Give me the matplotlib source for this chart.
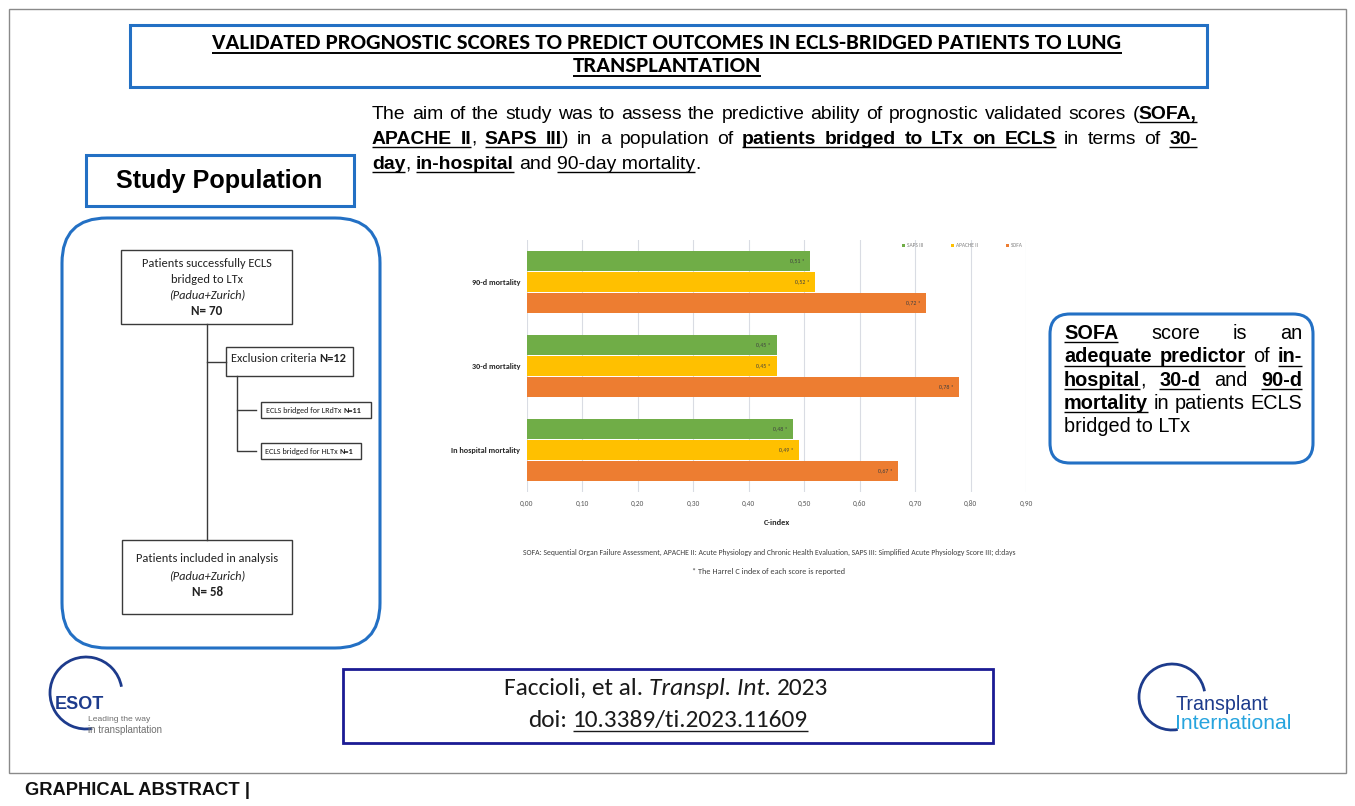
import matplotlib
matplotlib.use('Agg')
import matplotlib.pyplot as plt
from matplotlib import font_manager
from matplotlib.patches import Rectangle, FancyBboxPatch, Arc
import numpy as np

W, H = 1355, 806

# chart data (Harrell C-index)
groups = ['In hospital mortality', '30-d mortality', '90-d mortality']
scores = ['SAPS III', 'APACHE II', 'SOFA']
saps3 = [0.48, 0.45, 0.51]
apache2 = [0.49, 0.45, 0.52]
sofa = [0.67, 0.78, 0.72]
score_colors = ['#70AD47', '#FFC000', '#ED7D31']
xticks = [0.0, 0.1, 0.2, 0.3, 0.4, 0.5, 0.6, 0.7, 0.8, 0.9]

installed = {f.name for f in font_manager.fontManager.ttflist}


def pick(*names):
    for n in names:
        if n in installed:
            return n
    return 'DejaVu Sans'


ARIAL = pick('Liberation Sans', 'Arimo')
NARROW = pick('Liberation Sans Narrow', 'Liberation Sans')
CAL = pick('Carlito', 'Lato', 'Open Sans')
plt.rcParams['font.family'] = CAL

fig = plt.figure(figsize=(W / 100, H / 100), dpi=100)
bg = fig.add_axes([0, 0, 1, 1])
bg.set_xlim(0, W)
bg.set_ylim(H, 0)
bg.axis('off')
R = fig.canvas.get_renderer()


def seg_width(s, size, fam, fl):
    t = bg.text(0, 0, s, fontsize=size, family=fam,
                fontweight='bold' if 'b' in fl else 'normal',
                fontstyle='italic' if 'i' in fl else 'normal')
    w = t.get_window_extent(R).width
    t.remove()
    return w


def words(*runs):
    out, cur = [], []
    for text, fl in runs:
        for k, p in enumerate(text.split(' ')):
            if k > 0 and cur:
                out.append(cur)
                cur = []
            if p:
                cur.append((p, fl))
    if cur:
        out.append(cur)
    return out


def chunks_of(ws):
    # glue runs of the same style (with their spaces) into one piece
    ch = []
    for w in ws:
        for j, (s, f) in enumerate(w):
            if ch and ch[-1][1] == f:
                ch[-1][0] += (' ' if j == 0 else '') + s
            else:
                ch.append([s, f, j == 0 and bool(ch)])
    return ch


def space_w(size, fam):
    return seg_width('n n', size, fam, '') - seg_width('nn', size, fam, '')


def natural(ws, size, fam):
    sp = space_w(size, fam)
    return sum(seg_width(s, size, fam, f) + (sp if lead else 0) for s, f, lead in chunks_of(ws))


def fit(ws, width, fam):
    return 10 * width / natural(ws, 10, fam)


def draw_line(x, y, ws, size, fam, width=None, align='left', color='black', ul=1.0):
    sp = space_w(size, fam)
    pieces = []  # (text, flags, x, w)
    if width is None:
        ch = chunks_of(ws)
        cw = [seg_width(s, size, fam, f) for s, f, _ in ch]
        total = sum(cw) + sp * sum(1 for c in ch if c[2])
        if align == 'center':
            x -= total / 2
        elif align == 'right':
            x -= total
        cx = x
        for (s, f, lead), d in zip(ch, cw):
            if lead:
                cx += sp
            pieces.append((s, f, cx, d))
            cx += d
        gap = sp
    else:
        sw = [[seg_width(s, size, fam, f) for s, f in w] for w in ws]
        ww = [sum(a) for a in sw]
        gap = (width - sum(ww)) / max(len(ws) - 1, 1)
        cx = x
        for w, a in zip(ws, sw):
            for (s, f), d in zip(w, a):
                pieces.append((s, f, cx, d))
                cx += d
            cx += gap
    off = size * 100 / 72 * 0.17
    spans = []
    for s, f, cx, d in pieces:
        bg.text(cx, y, s, fontsize=size, family=fam, color=color,
                fontweight='bold' if 'b' in f else 'normal',
                fontstyle='italic' if 'i' in f else 'normal',
                ha='left', va='baseline')
        if 'u' in f:
            if spans and cx - spans[-1][1] <= gap + 0.5:
                spans[-1][1] = cx + d
            else:
                spans.append([cx, cx + d])
    for a, b in spans:
        bg.plot([a, b], [y + off, y + off], color=color, lw=ul, solid_capstyle='butt')


def fitted_line(x, y, runs, width, fam, **kw):
    ws = words(*runs)
    size = fit(ws, width, fam)
    draw_line(x, y, ws, size, fam, **kw)
    return size


BLUE = '#2370C4'

# outer frame
bg.add_patch(Rectangle((9, 9), 1337, 764, fill=False, ec='#8a8a8a', lw=1))

# title
bg.add_patch(Rectangle((130, 25), 1077, 62, fill=False, ec=BLUE, lw=2.2))
t1 = words(('VALIDATED PROGNOSTIC SCORES TO PREDICT OUTCOMES IN ECLS-BRIDGED PATIENTS TO LUNG', 'bu'))
ts = fit(t1, 910, CAL)
draw_line(667, 49, t1, ts, CAL, align='center', ul=1.4)
draw_line(667, 72, words(('TRANSPLANTATION', 'bu')), ts, CAL, align='center', ul=1.4)

# aim of the study
a1 = words(('The aim of the study was to assess the predictive ability of prognostic validated scores (', ''),
           ('SOFA,', 'bu'))
a2 = words(('APACHE II', 'bu'), (', ', ''), ('SAPS III', 'bu'), (') in a population of ', ''),
           ('patients bridged to LTx on ECLS', 'bu'), (' in terms of ', ''), ('30-', 'bu'))
a3 = words(('day', 'bu'), (', ', ''), ('in-hospital', 'bu'), (' and ', ''), ('90-day mortality', 'u'),
           ('.', ''))
asz = min(fit(a1, 815, NARROW), 14)
draw_line(372, 119, a1, asz, NARROW, width=825)
draw_line(372, 144, a2, asz, NARROW, width=825)
draw_line(372, 169, a3, asz, NARROW)

# study population
bg.add_patch(Rectangle((86, 155), 268, 51, fill=False, ec=BLUE, lw=2.2))
fitted_line(219, 188, [('Study Population', 'b')], 207, ARIAL, align='center')

# flow chart
bg.add_patch(FancyBboxPatch((62, 218), 318, 430, boxstyle='round,pad=0,rounding_size=45',
                            fill=False, ec=BLUE, lw=2.2))
FC = '#3a3a3a'
TC = '#222222'
for x, y, w, h in [(121, 250, 171, 74), (226, 347, 127, 29), (261, 402, 110, 16),
                   (261, 443, 100, 16), (122, 540, 170, 74)]:
    bg.add_patch(Rectangle((x, y), w, h, fill=False, ec=FC, lw=1))
bg.plot([207, 207], [324, 540], color=FC, lw=1)
bg.plot([207, 226], [362, 362], color=FC, lw=1)
bg.plot([237, 237, 256], [376, 451, 451], color=FC, lw=1)
bg.plot([237, 256], [410, 410], color=FC, lw=1)

fs = fitted_line(207, 267, [('Patients successfully ECLS', '')], 130, CAL, align='center', color=TC)
draw_line(207, 283, words(('bridged to LTx', '')), fs, CAL, align='center', color=TC)
draw_line(207, 298, words(('(Padua+Zurich)', 'i')), fs, CAL, align='center', color=TC)
draw_line(207, 315, words(('N= 70', 'b')), fs * 1.05, CAL, align='center', color=TC)
fitted_line(289, 362, [('Exclusion criteria ', ''), ('N=12', 'b')], 116, CAL, align='center', color=TC)
fitted_line(314, 413, [('ECLS bridged for LRdTx ', ''), ('N=11', 'b')], 95, CAL, align='center', color=TC)
fitted_line(309, 454, [('ECLS bridged for HLTx ', ''), ('N=1', 'b')], 89, CAL, align='center', color=TC)
draw_line(207, 562, words(('Patients included in analysis', '')), fs, CAL, align='center', color=TC)
draw_line(207, 579, words(('(Padua+Zurich)', 'i')), fs, CAL, align='center', color=TC)
draw_line(207, 596, words(('N= 58', 'b')), fs * 1.05, CAL, align='center', color=TC)

# conclusion box
bg.add_patch(FancyBboxPatch((1050, 314), 263, 149, boxstyle='round,pad=0,rounding_size=20',
                            fill=False, ec=BLUE, lw=2.2))
c1 = words(('SOFA', 'bu'), (' score is an', ''))
c2 = words(('adequate predictor', 'bu'), (' of ', ''), ('in-', 'bu'))
c3 = words(('hospital', 'bu'), (', ', ''), ('30-d', 'bu'), (' and ', ''), ('90-d', 'bu'))
c4 = words(('mortality', 'bu'), (' in patients ECLS', ''))
c5 = words(('bridged to LTx', ''))
csz = fit(c4, 238, ARIAL)
for k, ln in enumerate([c1, c2, c3, c4]):
    draw_line(1064, 339 + 23.3 * k, ln, csz, ARIAL, width=238)
draw_line(1064, 339 + 23.3 * 4, c5, csz, ARIAL)

# citation
bg.add_patch(Rectangle((343, 669), 650, 74, fill=False, ec='#1b1b94', lw=2))
csz2 = fitted_line(666, 695, [('Faccioli, et al. ', ''), ('Transpl. Int.', 'i'), (' 2023', '')], 325, CAL,
                   align='center', color='#1a1a1a')
draw_line(668, 727, words(('doi: ', ''), ('10.3389/ti.2023.11609', 'u')), csz2, CAL,
          align='center', color='#1a1a1a')

# logos
NAVY = '#1d3b8c'
bg.add_patch(Arc((86, 693), 72, 72, theta1=80, theta2=350, color=NAVY, lw=2))
fitted_line(55, 709, [('ESOT', 'b')], 49, ARIAL, color=NAVY)
fitted_line(88, 721, [('Leading the way', '')], 62, ARIAL, color='#707070')
fitted_line(88, 733, [('in transplantation', '')], 75, ARIAL, color='#707070')

bg.add_patch(Arc((1172, 697), 66, 66, theta1=80, theta2=350, color=NAVY, lw=2))
fitted_line(1175, 710, [('Transplant', '')], 92, ARIAL, color=NAVY)
fitted_line(1175, 729, [('International', '')], 117, ARIAL, color='#27A4DE')

fitted_line(25, 795, [('GRAPHICAL ABSTRACT |', 'b')], 223, ARIAL, color='#111111')

# chart
ax = fig.add_axes([527 / W, (H - 492) / H, (1026 - 527) / W, (492 - 240) / H])
ax.patch.set_alpha(0)
ypos = np.arange(len(groups))
offsets = [0.25, 0.0, -0.25]
for vals, name, col, o in zip([saps3, apache2, sofa], scores, score_colors, offsets):
    bars = ax.barh(ypos + o, vals, height=0.245, color=col, label=name, zorder=2)
    for b, v in zip(bars, vals):
        ax.text(v - 0.01, b.get_y() + b.get_height() / 2, f"{v:.2f}".replace('.', ',') + ' *',
                ha='right', va='center', fontsize=4.2, color='#404040', zorder=3)
ax.set_xlim(0, 0.9)
ax.set_ylim(-0.5, 2.5)
ax.set_xticks(xticks)
ax.set_xticklabels([f"{t:.2f}".replace('.', ',') for t in xticks])
ax.set_yticks(ypos)
ax.set_yticklabels(groups, fontweight='bold')
ax.tick_params(axis='x', length=0, labelsize=5.3, colors='#595959', pad=6)
ax.tick_params(axis='y', length=0, labelsize=5.9, colors='#262626', pad=5)
ax.grid(axis='x', color='#D9DCE3', lw=0.8, zorder=0)
for s in ax.spines.values():
    s.set_visible(False)
ax.set_xlabel('C-index', fontsize=6, fontweight='bold', color='#262626', labelpad=8)
ax.legend(loc='upper right', bbox_to_anchor=(1.0, 1.0), ncol=3, fontsize=4, frameon=False,
          handlelength=0.6, handleheight=0.6, handletextpad=0.3, columnspacing=5,
          borderaxespad=0.2, labelcolor='#7f7f7f')

fitted_line(769, 555, [('SOFA: Sequential Organ Failure Assessment, APACHE II: Acute Physiology and Chronic '
                        'Health Evaluation, SAPS III: Simplified Acute Physiology Score III; d:days', '')],
            500, CAL, align='center', color='#404040')
fitted_line(769, 574, [('* The Harrel C index of each score is reported', '')], 152, CAL,
            align='center', color='#404040')

fig.savefig('out.png', dpi=100)
